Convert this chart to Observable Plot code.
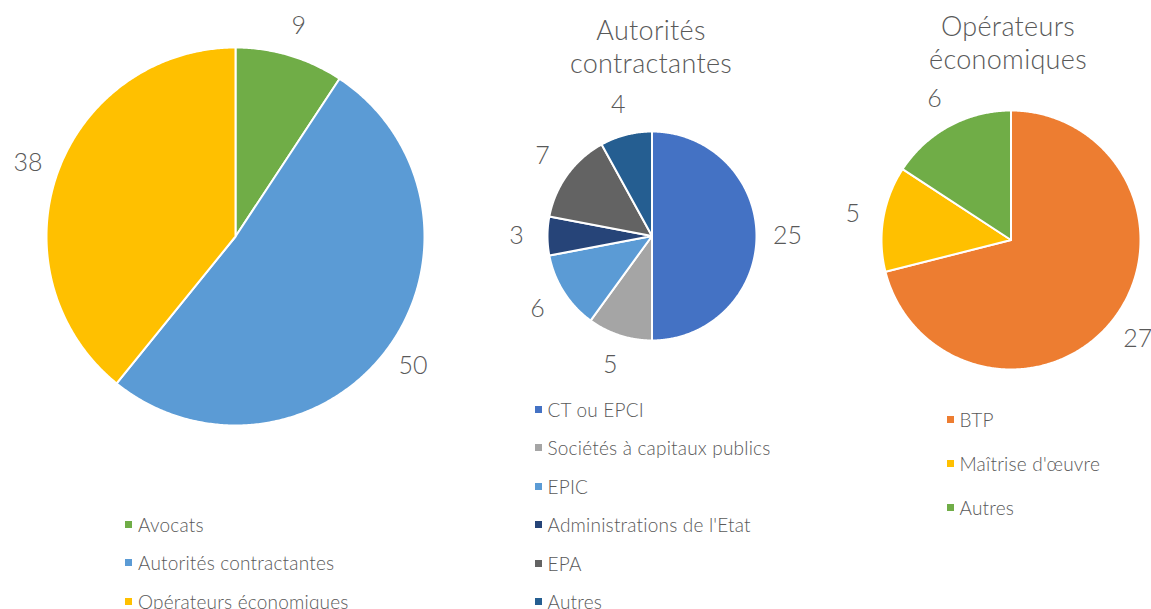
<!DOCTYPE html>
<html><head><meta charset="utf-8">
<script src="https://cdn.jsdelivr.net/npm/d3@7"></script>
<script src="https://cdn.jsdelivr.net/npm/@observablehq/plot@0.6"></script>
<style>
body{margin:0;width:1151px;height:609px;overflow:hidden;background:#fff;font-family:Lato,"Open Sans",sans-serif;font-weight:300;color:#595959;position:relative}
.panel{position:absolute}
.panel svg{max-width:none}
.title{position:absolute;text-align:center;font-size:27px;line-height:33px;width:320px;white-space:nowrap;letter-spacing:0.3px}
.item{position:absolute;display:flex;align-items:center;height:24px;white-space:nowrap;font-size:19px;letter-spacing:0.2px}
.sw{width:7px;height:7px;margin-right:6px;flex:none}
</style></head><body>
<script>
// ---- data ----
const cats1 = ["Avocats", "Autorités contractantes", "Opérateurs économiques"];
const vals1 = [9, 50, 38];
const cols1 = ["#70AD47", "#5B9BD5", "#FFC000"];

const title2 = ["Autorités", "contractantes"];
const cats2 = ["CT ou EPCI", "Sociétés à capitaux publics", "EPIC", "Administrations de l'Etat", "EPA", "Autres"];
const vals2 = [25, 5, 6, 3, 7, 4];
const cols2 = ["#4472C4", "#A5A5A5", "#5B9BD5", "#264478", "#636363", "#255E91"];

const title3 = ["Opérateurs", "économiques"];
const cats3 = ["BTP", "Maîtrise d'œuvre", "Autres"];
const vals3 = [27, 5, 6];
const cols3 = ["#ED7D31", "#FFC000", "#70AD47"];

// ---- layout ----
const panels = [
  {cats: cats1, vals: vals1, cols: cols1, title: null, cx: 234.5, cy: 236, r: 189,
   legend: {x: 128.5, y0: 524, dy: 38.5}},
  {cats: cats2, vals: vals2, cols: cols2, title: title2, cx: 651.5, cy: 235.5, r: 104.5, titleTop: 13, titleX: 651,
   legend: {x: 538, y0: 409, dy: 38.5}},
  {cats: cats3, vals: vals3, cols: cols3, title: title3, cx: 1010, cy: 239.5, r: 129.5, titleTop: 9, titleX: 1008,
   legend: {x: 950, y0: 419, dy: 44}}
];
const labelPad = 31;

function slices(cats, vals) {
  const total = d3.sum(vals);
  let acc = 0;
  const poly = [], labels = [];
  cats.forEach((c, i) => {
    const a0 = acc / total * 2 * Math.PI; acc += vals[i]; const a1 = acc / total * 2 * Math.PI;
    poly.push({cat: c, x: 0, y: 0});
    const n = Math.max(2, Math.ceil((a1 - a0) / (Math.PI / 360)));
    for (let k = 0; k <= n; k++) {
      const a = a0 + (a1 - a0) * k / n;
      poly.push({cat: c, x: Math.sin(a), y: Math.cos(a)});
    }
    labels.push({cat: c, value: vals[i], a: (a0 + a1) / 2});
  });
  return {poly, labels};
}

for (const p of panels) {
  const {poly, labels} = slices(p.cats, p.vals);
  const h = p.r + 20;
  const s = h / p.r;
  const k = 1 + labelPad / p.r;
  const chart = Plot.plot({
    width: 2 * h, height: 2 * h, margin: 0,
    x: {domain: [-s, s], axis: null},
    y: {domain: [-s, s], axis: null},
    color: {domain: p.cats, range: p.cols},
    style: {overflow: "visible", background: "transparent", maxWidth: "none"},
    marks: [
      Plot.line(poly, {x: "x", y: "y", z: "cat", fill: "cat", stroke: "white", strokeWidth: 2,
        strokeLinejoin: "round", curve: "linear-closed"}),
      Plot.text(labels, {x: d => Math.sin(d.a) * k, y: d => Math.cos(d.a) * k, text: d => String(d.value),
        fontSize: 25, fill: "#595959", fontFamily: "Lato, 'Open Sans', sans-serif", fontWeight: 300})
    ]
  });
  const div = document.createElement("div");
  div.className = "panel";
  div.style.left = (p.cx - h) + "px";
  div.style.top = (p.cy - h) + "px";
  div.style.width = (2 * h) + "px";
  div.style.height = (2 * h) + "px";
  div.appendChild(chart);
  document.body.appendChild(div);

  if (p.title) {
    const t = document.createElement("div");
    t.className = "title";
    t.style.left = (p.titleX - 160) + "px";
    t.style.top = p.titleTop + "px";
    t.innerHTML = p.title.join("<br>");
    document.body.appendChild(t);
  }
  p.cats.forEach((c, i) => {
    const it = document.createElement("div");
    it.className = "item";
    it.style.left = (p.legend.x - 3.5) + "px";
    it.style.top = (p.legend.y0 + i * p.legend.dy - 12) + "px";
    const sw = document.createElement("span");
    sw.className = "sw"; sw.style.background = p.cols[i];
    it.appendChild(sw);
    it.appendChild(document.createTextNode(c));
    document.body.appendChild(it);
  });
}
</script>
</body></html>
